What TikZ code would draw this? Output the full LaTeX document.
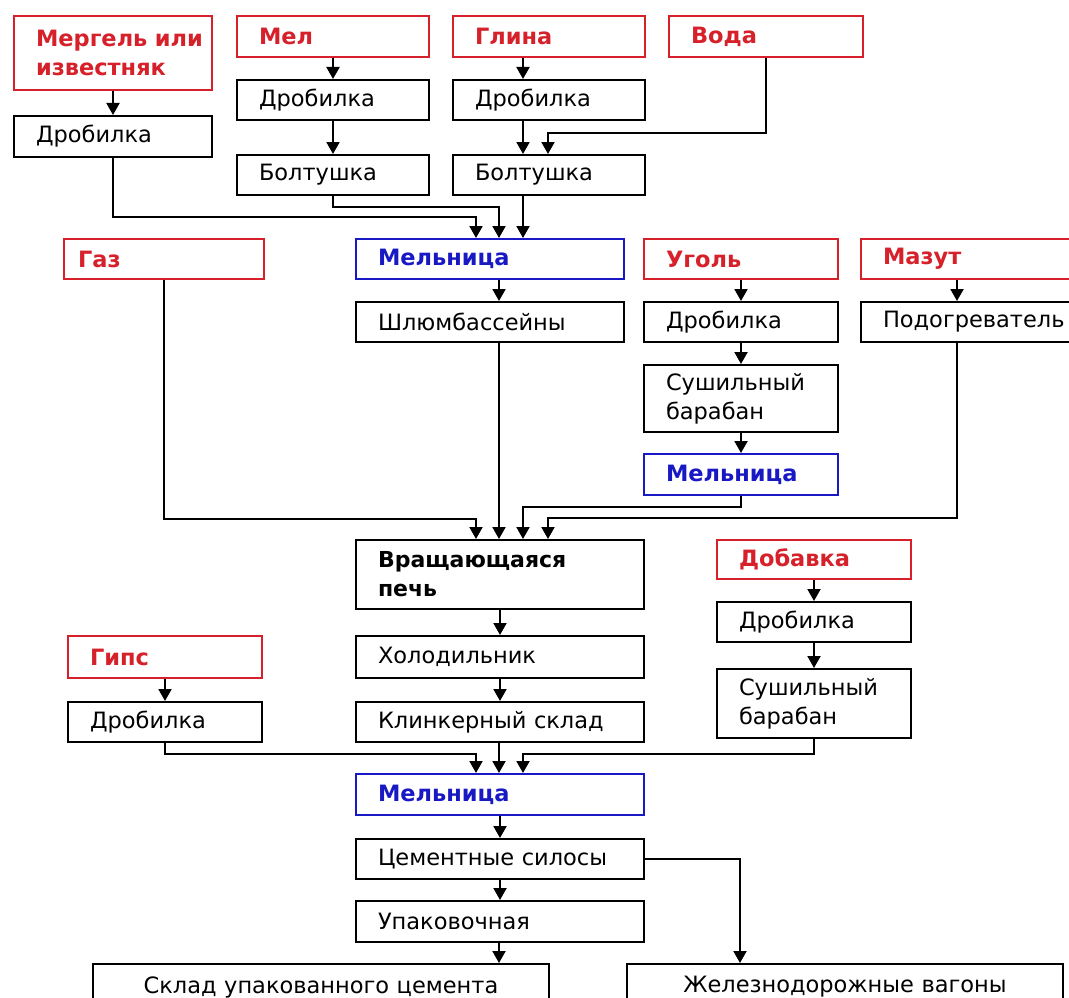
\documentclass[tikz,border=0pt]{standalone}
\usepackage{fontspec}
\setmainfont{DejaVu Sans}
\usetikzlibrary{arrows.meta}
\definecolor{cred}{RGB}{214,32,42}
\definecolor{cblu}{RGB}{24,24,196}
\begin{document}
\begin{tikzpicture}[x=1pt,y=-1pt,
  bx/.style={draw=black, line width=2pt, anchor=north west, inner xsep=22pt, inner ysep=0pt,
     align=left, font=\fontsize{22.5}{29}\selectfont},
  rbx/.style={bx, draw=cred, text=cred, font=\bfseries\fontsize{22.5}{29}\selectfont},
  bbx/.style={bx, draw=cblu, text=cblu, font=\bfseries\fontsize{22.5}{29}\selectfont},
  kbx/.style={bx, font=\bfseries\fontsize{22}{29}\selectfont},
  cbx/.style={bx, align=center},
  sz/.style n args={3}{minimum width=#1pt, minimum height=#2pt, text width=#3pt},
  arr/.style={draw=black, line width=2pt, -{Triangle[width=13pt,length=12pt]}}]
\useasboundingbox (0,0) rectangle (1069,998);
\clip (0,0) rectangle (1069,998);
\fill[white] (0,0) rectangle (1069,998);
% guide coordinates
\coordinate (L1) at (476,0);
\coordinate (L2) at (499,0);
\coordinate (L3) at (523,0);
\coordinate (L4) at (548,0);
\coordinate (L5) at (957,0);
\coordinate (L6) at (740,0);
% top row
\node[rbx, sz={198}{74}{154}] (merg) at (13,15) {Мергель~или\\известняк};
\node[bx, sz={198}{41}{154}] (drob1) at (13,115) {Дробилка};
\node[rbx, sz={192}{41}{148}] (mel) at (236,15) {Мел};
\node[bx, sz={192}{40}{148}] (drob2) at (236,79) {Дробилка};
\node[bx, sz={192}{40}{148}] (bolt1) at (236,154) {Болтушка};
\node[rbx, sz={192}{41}{148}] (glina) at (452,15) {Глина};
\node[bx, sz={192}{40}{148}] (drob3) at (452,79) {Дробилка};
\node[bx, sz={192}{40}{148}] (bolt2) at (452,154) {Болтушка};
\node[rbx, sz={194}{41}{150}] (voda) at (668,15) {Вода};
% second row
\node[rbx, inner xsep=14pt, sz={200}{40}{172}] (gaz) at (63,238) {Газ};
\node[bbx, sz={268}{40}{224}] (mel1) at (355,238) {Мельница};
\node[bx, sz={268}{40}{224}] (shlum) at (355,301) {Шлюмбассейны};
\node[rbx, sz={194}{40}{150}] (ugol) at (643,238) {Уголь};
\node[bx, sz={194}{40}{150}] (drob4) at (643,301) {Дробилка};
\node[bx, sz={194}{67}{150}] (sush1) at (643,364) {Сушильный\\барабан};
\node[bbx, sz={194}{41}{150}] (mel2) at (643,453) {Мельница};
\node[rbx, sz={230}{40}{186}] (mazut) at (860,238) {Мазут};
\node[bx, sz={230}{40}{186}] (podog) at (860,301) {Подогреватель};
% middle
\node[kbx, sz={288}{69}{244}] (pech) at (355,539) {Вращающаяся\\печь};
\node[bx, sz={288}{42}{244}] (holod) at (355,635) {Холодильник};
\node[bx, sz={288}{40}{244}] (klink) at (355,701) {Клинкерный склад};
\node[rbx, sz={194}{39}{150}] (dobav) at (716,539) {Добавка};
\node[bx, sz={194}{40}{150}] (drob5) at (716,601) {Дробилка};
\node[bx, sz={194}{69}{150}] (sush2) at (716,668) {Сушильный\\барабан};
\node[rbx, sz={194}{42}{150}] (gips) at (67,635) {Гипс};
\node[bx, sz={194}{40}{150}] (drob6) at (67,701) {Дробилка};
% bottom
\node[bbx, sz={288}{41}{244}] (mel3) at (355,773) {Мельница};
\node[bx, sz={288}{40}{244}] (silos) at (355,838) {Цементные силосы};
\node[bx, sz={288}{41}{244}] (upak) at (355,900) {Упаковочная};
\node[cbx, sz={456}{46}{412}] (sklad) at (92,963) {Склад упакованного цемента};
\node[cbx, sz={436}{46}{392}] (zhd) at (626,963) {Железнодорожные вагоны};
% connectors top
\draw[arr] (merg) -- (drob1);
\draw[arr] (mel) -- (drob2);
\draw[arr] (drob2) -- (bolt1);
\draw[arr] (glina.south -| L3) -- (drob3.north -| L3);
\draw[arr] (drob3.south -| L3) -- (bolt2.north -| L3);
\draw[arr] (voda.south) -- ++(0,75) -| (bolt2.north -| L4);
\draw[arr] (drob1.south) -- ++(0,59) -| (mel1.north -| L1);
\draw[arr] (bolt1.south) -- ++(0,11) -| (mel1.north -| L2);
\draw[arr] (bolt2.south -| L3) -- (mel1.north -| L3);
\draw[arr] (mel1.south -| L2) -- (shlum.north -| L2);
% fuels to kiln
\draw[arr] (shlum.south -| L2) -- (pech.north -| L2);
\draw[arr] (gaz.south) -- ++(0,239) -| (pech.north -| L1);
\draw[arr] (ugol) -- (drob4);
\draw[arr] (drob4) -- (sush1);
\draw[arr] (sush1) -- (mel2);
\draw[arr] (mel2.south) -- ++(0,11) -| (pech.north -| L3);
\draw[arr] (mazut.south -| L5) -- (podog.north -| L5);
\draw[arr] (podog.south -| L5) -- ++(0,175) -| (pech.north -| L4);
% kiln to mill
\draw[arr] (pech) -- (holod);
\draw[arr] (holod) -- (klink);
\draw[arr] (klink.south -| L2) -- (mel3.north -| L2);
\draw[arr] (gips) -- (drob6);
\draw[arr] (drob6.south) -- ++(0,11) -| (mel3.north -| L1);
\draw[arr] (dobav) -- (drob5);
\draw[arr] (drob5) -- (sush2);
\draw[arr] (sush2.south) -- ++(0,15) -| (mel3.north -| L3);
% bottom
\draw[arr] (mel3) -- (silos);
\draw[arr] (silos) -- (upak);
\draw[arr] (upak.south -| L2) -- (sklad.north -| L2);
\draw[arr] (silos.east) -| (zhd.north -| L6);
\end{tikzpicture}
\end{document}
